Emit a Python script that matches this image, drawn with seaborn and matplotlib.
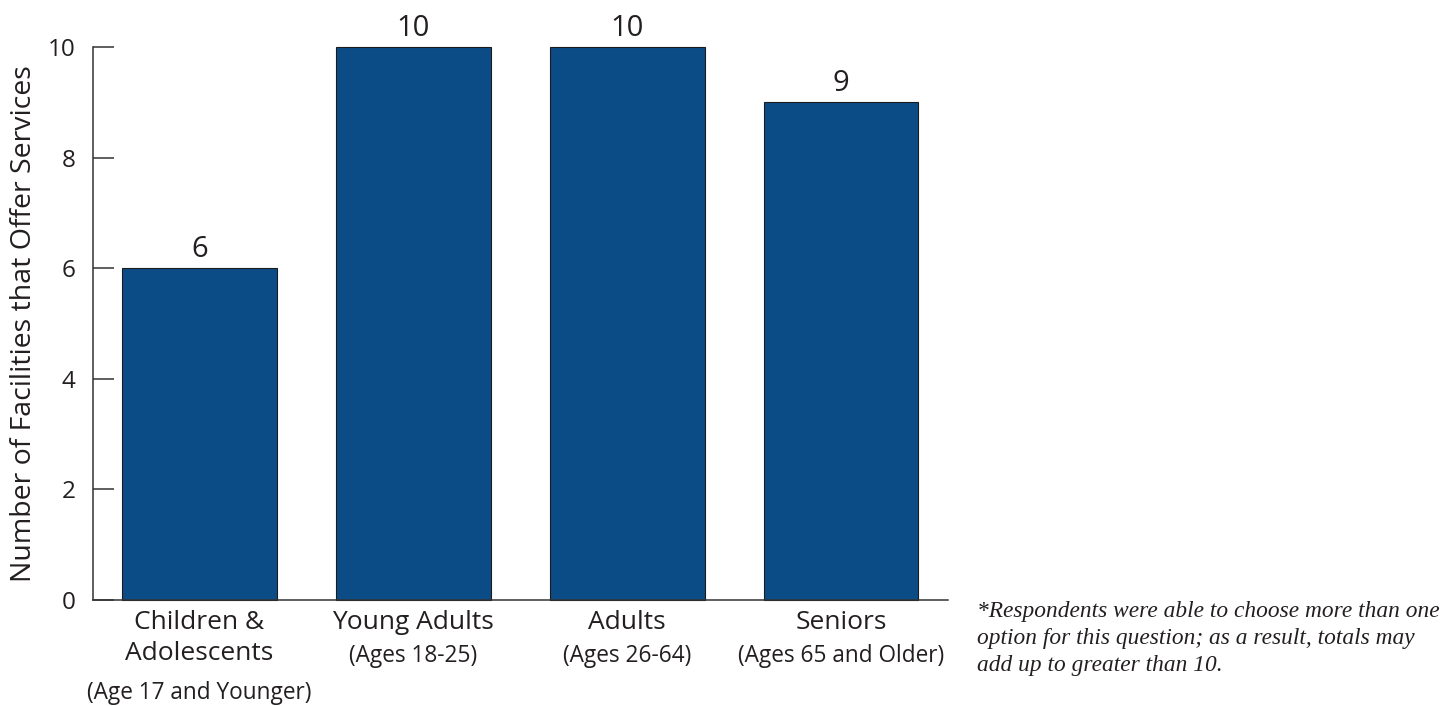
import pandas as pd
import seaborn as sns
import matplotlib.pyplot as plt

# Data
groups = ["Children &\nAdolescents", "Young Adults", "Adults", "Seniors"]
age_notes = ["(Age 17 and Younger)", "(Ages 18-25)", "(Ages 26-64)", "(Ages 65 and Older)"]
facilities = [6, 10, 10, 9]
y_ticks = [0, 2, 4, 6, 8, 10]

footnote = ("*Respondents were able to choose more than one\n"
            "option for this question; as a result, totals may\n"
            "add up to greater than 10.")

df = pd.DataFrame({"group": groups, "facilities": facilities})

sns.set_style("white")
plt.rcParams["font.family"] = ["Open Sans", "DejaVu Sans"]

fig = plt.figure(figsize=(14.5, 7.06), dpi=100)
ax = fig.add_axes([0.0638, 0.1501, 0.59, 0.7833])

bar_color = "#0b4c86"
sns.barplot(data=df, x="group", y="facilities", color=bar_color, saturation=1,
            width=0.724, edgecolor="#1c1c1c", linewidth=0.8, ax=ax, errorbar=None)

ax.set_xlim(-0.5, 3.5)
ax.set_ylim(0, 10)
ax.set_yticks(y_ticks)
ax.set_yticklabels([str(t) for t in y_ticks], fontsize=17.5, color="#231f20")
ax.set_xticks(range(len(groups)))
ax.set_xticklabels([])
ax.tick_params(axis="y", left=True, direction="in", length=15, width=1.1,
               color="#333333", pad=12)
ax.tick_params(axis="x", length=0)
ax.set_xlabel("")
ax.set_ylabel("Number of Facilities that Offer Services", fontsize=20.5,
              color="#231f20", labelpad=7)

for side in ["top", "right"]:
    ax.spines[side].set_visible(False)
for side in ["left", "bottom"]:
    ax.spines[side].set_color("#333333")
    ax.spines[side].set_linewidth(1.1)

for bar in ax.patches:
    bar.set_clip_on(False)

# Value labels above the bars
ax.bar_label(ax.containers[0], labels=[str(v) for v in facilities], padding=3,
             fontsize=21, color="#231f20")

# Two-level category labels
for i, (g, note) in enumerate(zip(groups, age_notes)):
    ax.annotate(g, xy=(i, 0), xycoords=("data", "axes fraction"), xytext=(0, -7),
                textcoords="offset points", ha="center", va="top", fontsize=19,
                linespacing=1.35, color="#231f20")
    n_lines = g.count("\n") + 1
    ax.annotate(note, xy=(i, 0), xycoords=("data", "axes fraction"),
                xytext=(0, -40 - 27 * (n_lines - 1)), textcoords="offset points",
                ha="center", va="center", fontsize=16.3, color="#231f20")

fig.text(0.674, 0.096, footnote, fontsize=16.8, style="italic", color="#231f20",
         family=["Liberation Serif", "DejaVu Serif"], ha="left", va="center",
         linespacing=1.38)

plt.savefig("out.png", dpi=100)
